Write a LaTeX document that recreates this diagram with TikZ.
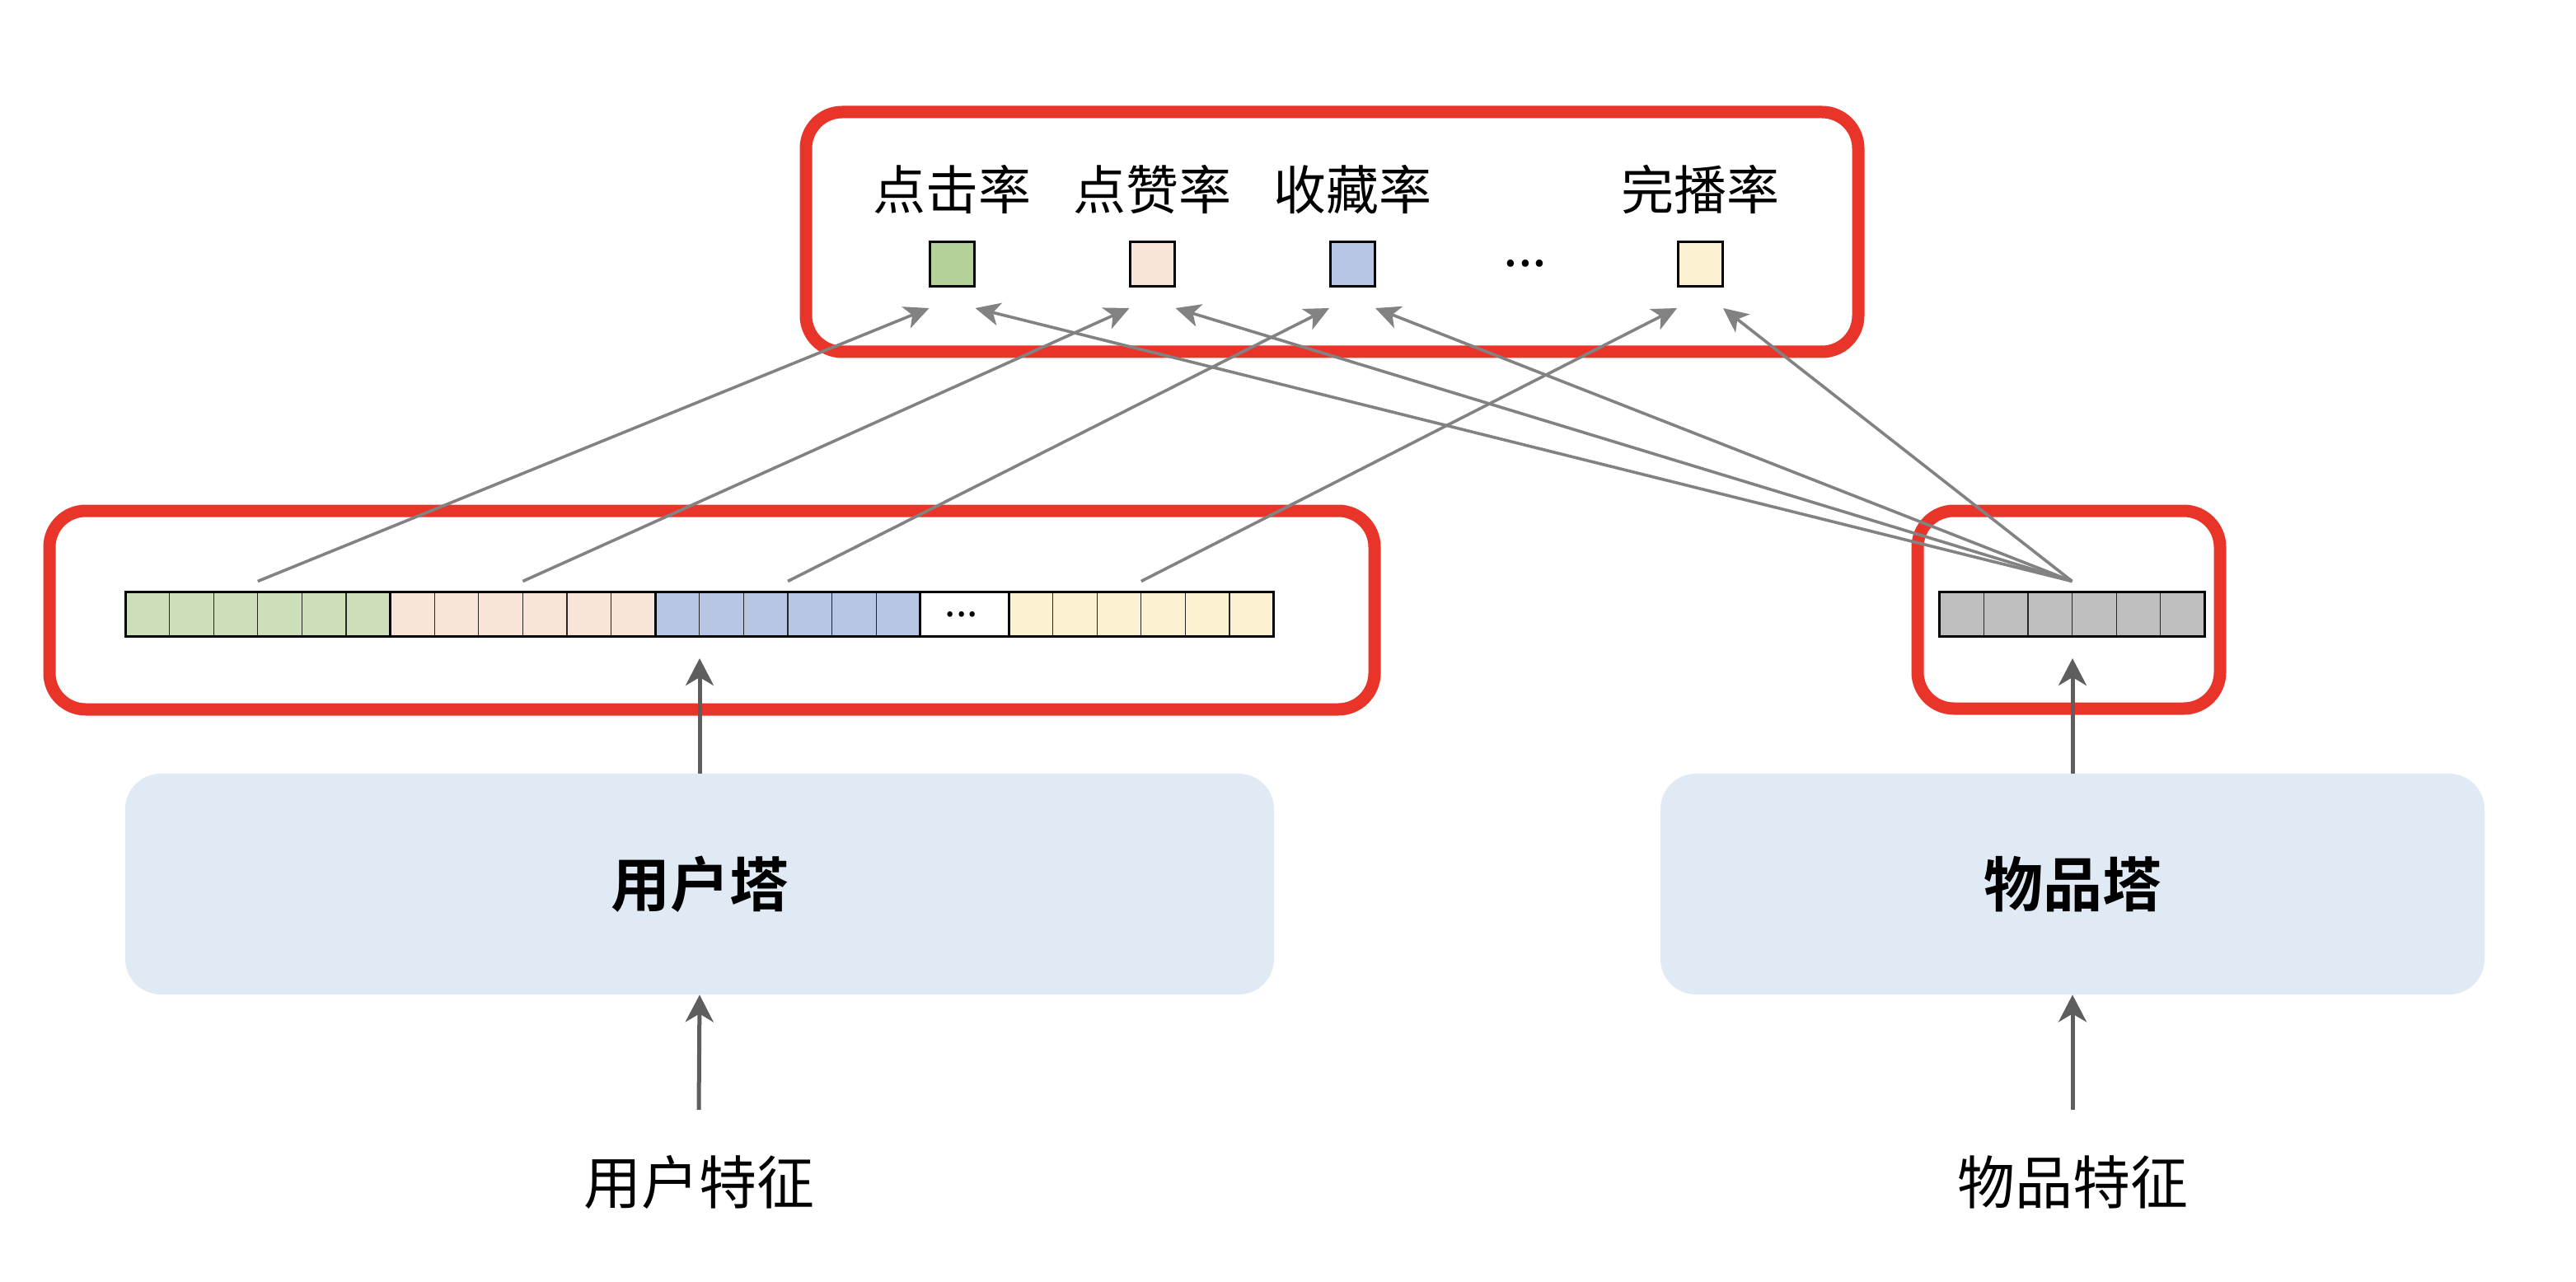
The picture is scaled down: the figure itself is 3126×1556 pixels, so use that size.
\documentclass[tikz,border=0pt]{standalone}
\usepackage{fontspec}
\setmainfont{Noto Sans CJK SC}[BoldFont={Noto Sans CJK SC Bold}]
\usetikzlibrary{arrows.meta}
\definecolor{redc}{HTML}{E9342A}
\definecolor{greenS}{HTML}{B3D198}
\definecolor{greenB}{HTML}{CCDFBA}
\definecolor{peachc}{HTML}{F8E5D8}
\definecolor{bluec}{HTML}{B7C6E4}
\definecolor{yellowc}{HTML}{FCF1D0}
\definecolor{grayb}{HTML}{BFBFBF}
\definecolor{towerc}{HTML}{E0EAF5}
\definecolor{lineg}{HTML}{828282}
\definecolor{arrowg}{HTML}{5E5E5E}
\begin{document}
\begin{tikzpicture}[x=0.5pt,y=-0.5pt,
  redbox/.style={draw=redc, line width=7.5pt, rounded corners=22pt, inner sep=0pt},
  tower/.style={fill=towerc, rounded corners=21.5pt, inner sep=0pt, minimum height=134pt,
    font=\fontsize{36pt}{42pt}\selectfont\bfseries},
  lab/.style={inner sep=0pt, font=\fontsize{32pt}{38pt}\selectfont},
  flab/.style={inner sep=0pt, font=\fontsize{35pt}{42pt}\selectfont},
  sq/.style={draw=black, line width=1.5pt, minimum size=27pt, inner sep=0pt},
  seg/.style={draw=black, line width=1.5pt, minimum width=160.8pt, minimum height=27pt, inner sep=0pt,
    path picture={\foreach \k in {1,...,5}{\draw[line width=0.6pt, draw=black!85]
      ([xshift=\k*26.8pt]path picture bounding box.south west) --
      ([xshift=\k*26.8pt]path picture bounding box.north west);}}},
  conn/.style={draw=lineg, line width=1.8pt, -{Stealth[length=15pt, width=14pt, inset=4pt]}},
  varrow/.style={draw=arrowg, line width=2.5pt, -{Stealth[length=16.5pt, width=17pt, inset=5pt]}}
]
\useasboundingbox (0,0) rectangle (3126,1556);

% red frames
\node[redbox, minimum width=638.5pt, minimum height=145.5pt] (topbox) at (1616.5,281.5) {};
\node[redbox, minimum width=804pt, minimum height=120.5pt] (leftbox) at (864,740.5) {};
\node[redbox, minimum width=183.5pt, minimum height=120pt] (rightbox) at (2510.5,740) {};

% output labels
\node[lab] (l1) at (1155.5,230) {点击率};
\node[lab] (l2) at (1398.5,230) {点赞率};
\node[lab] (l3) at (1641,230) {收藏率};
\node[lab] (l4) at (2063,230) {完播率};

% output squares
\node[sq, fill=greenS] (s1) at (1155.5,320.5) {};
\node[sq, fill=peachc] (s2) at (1398.5,320.5) {};
\node[sq, fill=bluec] (s3) at (1641,320.5) {};
\node[sq, fill=yellowc] (s4) at (2063,320.5) {};
\node[lab, anchor=base] (dots) at (1851,324) {...};

% user embedding bar
\node[seg, fill=greenB] (g) at (312.8,745) {};
\node[seg, fill=peachc] (p) at (634.4,745) {};
\node[seg, fill=bluec] (b) at (956,745) {};
\node[draw=black, line width=1.5pt, fill=white, minimum width=53.6pt, minimum height=27pt, inner sep=0pt] (w) at (1170.4,745) {};
\node[inner sep=0pt, anchor=base, font=\fontsize{24pt}{28pt}\selectfont] (wdots) at (1167,748.5) {...};
\node[seg, fill=yellowc] (y) at (1384.8,745) {};

% item embedding bar
\node[seg, fill=grayb] (gb) at (2514.5,745) {};

% towers
\node[tower, minimum width=697pt] (ut) at (849,1073) {用户塔};
\node[tower, minimum width=500pt] (it) at (2515,1073) {物品塔};

% feature labels
\node[flab] (uf) at (848,1435) {用户特征};
\node[flab] (if) at (2515,1435) {物品特征};

% coordinates
\coordinate (t1u) at (1127.5,374);
\coordinate (t1i) at (1183.5,374);
\coordinate (t2u) at (1370.5,374);
\coordinate (t2i) at (1426.5,374);
\coordinate (t3u) at (1613,374);
\coordinate (t3i) at (1669,374);
\coordinate (t4u) at (2035,374);
\coordinate (t4i) at (2091,374);
\coordinate (ubar) at (849,799);
\coordinate (ibar) at (2515,799);
\coordinate (ufa) at (848,1347);
\coordinate (ifa) at (2515,1347);

% connectors from user bar
\draw[conn] ([yshift=5.5pt]g.north) -- (t1u);
\draw[conn] ([yshift=5.5pt]p.north) -- (t2u);
\draw[conn] ([yshift=5.5pt]b.north) -- (t3u);
\draw[conn] ([yshift=5.5pt]y.north) -- (t4u);
% connectors from item bar
\draw[conn] ([yshift=5.5pt]gb.north) -- (t1i);
\draw[conn] ([yshift=5.5pt]gb.north) -- (t2i);
\draw[conn] ([yshift=5.5pt]gb.north) -- (t3i);
\draw[conn] ([yshift=5.5pt]gb.north) -- (t4i);

% vertical arrows
\draw[varrow] (ufa) -- (ut.south);
\draw[varrow] (ut.north) -- (ubar);
\draw[varrow] (ifa) -- (it.south);
\draw[varrow] (it.north) -- (ibar);
\end{tikzpicture}
\end{document}
